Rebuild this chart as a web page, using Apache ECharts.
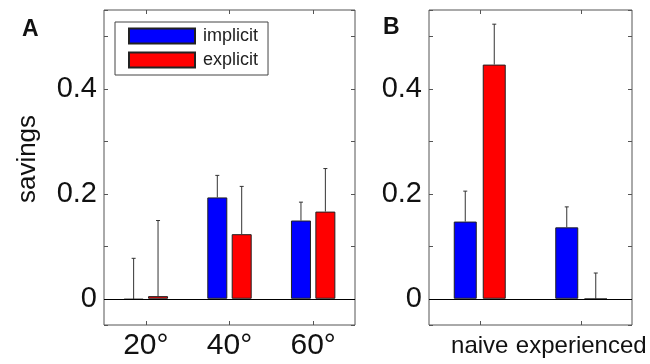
<!DOCTYPE html>
<html>
<head>
<meta charset="utf-8">
<script src="https://cdn.jsdelivr.net/npm/echarts@6/dist/echarts.min.js"></script>
<style>
  html, body { margin: 0; padding: 0; background: #fff; }
  #chart { width: 650px; height: 364px; }
</style>
</head>
<body>
<div id="chart"></div>
<script>
// panel A: savings by rotation size
const anglesA = ['20°', '40°', '60°'];
const implicitA = [-0.002, 0.193, 0.149];
const explicitA = [0.005, 0.123, 0.166];
const implicitUpperA = [0.077, 0.235, 0.184];
const explicitUpperA = [0.149, 0.214, 0.248];

// panel B: naive vs experienced
const groupsB = ['naive', 'experienced'];
const implicitB = [0.147, 0.136];
const explicitB = [0.446, -0.001];
const implicitUpperB = [0.205, 0.175];
const explicitUpperB = [0.523, 0.049];

const yTickLabels = ['0', '0.2', '0.4'];

const FONT = 'Liberation Sans, Arial, Helvetica, sans-serif';
const BLUE = '#0000ff';
const RED = '#ff0000';
const FRAME = '#555';

function tickLabel(v) {
    const hit = yTickLabels.find((t) => Math.abs(parseFloat(t) - v) < 1e-6);
    return hit || '';
}

function errData(vals, uppers) {
    return vals.map((v, i) => [i, v, uppers[i]]);
}

function errSeries(name, vals, uppers, axis, offset) {
    return {
        name: name,
        type: 'custom',
        xAxisIndex: axis,
        yAxisIndex: axis,
        z: 3,
        silent: true,
        data: errData(vals, uppers),
        renderItem: (params, api) => {
            const base = api.coord([api.value(0), api.value(1)]);
            const top = api.coord([api.value(0), api.value(2)]);
            const x = base[0] + offset;
            const st = { stroke: '#333', lineWidth: 1 };
            return {
                type: 'group',
                children: [
                    { type: 'line', shape: { x1: x, y1: base[1], x2: x, y2: top[1] }, style: st },
                    { type: 'line', shape: { x1: x - 2, y1: top[1], x2: x + 2, y2: top[1] }, style: st },
                ],
            };
        },
    };
}

function catAxis(gridIndex, data, position, showLabel, fontSize, margin) {
    return {
        type: 'category',
        gridIndex: gridIndex,
        position: position,
        data: data,
        axisLine: { show: false, onZero: false },
        axisTick: { show: true, inside: true, length: 4, alignWithLabel: true, lineStyle: { color: FRAME } },
        axisLabel: { show: showLabel, interval: 0, hideOverlap: false, fontFamily: FONT, fontSize: fontSize, color: '#111', margin: margin },
        splitLine: { show: false },
    };
}

function valAxis(gridIndex, position, showLabel) {
    return {
        type: 'value',
        gridIndex: gridIndex,
        position: position,
        min: -0.05,
        max: 0.55,
        splitNumber: 5,
        axisLine: { show: false, onZero: false },
        axisTick: { show: true, inside: true, length: 4, lineStyle: { color: FRAME } },
        axisLabel: { show: showLabel, formatter: tickLabel, fontFamily: FONT, fontSize: 29, color: '#111', margin: 7 },
        splitLine: { show: false },
    };
}

const barStyle = (c) => ({ color: c, borderColor: '#222', borderWidth: 1 });
const zeroLine = {
    silent: true,
    symbol: 'none',
    label: { show: false },
    lineStyle: { color: '#000', width: 1, type: 'solid' },
    data: [{ yAxis: 0 }],
};

const chart = echarts.init(document.getElementById('chart'));

const option = {
    animation: false,
    backgroundColor: '#fff',
    textStyle: { fontFamily: FONT },
    legend: {
        data: ['implicit', 'explicit'],
        icon: 'rect',
        orient: 'vertical',
        left: 115,
        top: 22,
        itemWidth: 66,
        itemHeight: 15,
        itemGap: 6,
        padding: [5, 10, 6, 13],
        borderColor: '#444',
        borderWidth: 1,
        borderRadius: 0,
        backgroundColor: '#fff',
        selectedMode: false,
        textStyle: { fontFamily: FONT, fontSize: 18, color: '#222', padding: [0, 0, 0, 3] },
    },
    grid: [
        { left: 104, top: 10, width: 251, height: 315, show: true, borderColor: FRAME, borderWidth: 1, backgroundColor: 'transparent' },
        { left: 429, top: 10, width: 203, height: 315, show: true, borderColor: FRAME, borderWidth: 1, backgroundColor: 'transparent' },
    ],
    xAxis: [
        catAxis(0, anglesA, 'bottom', true, 30, 6),
        catAxis(0, anglesA, 'top', false, 30, 6),
        catAxis(1, groupsB, 'bottom', true, 24, 9),
        catAxis(1, groupsB, 'top', false, 24, 9),
    ],
    yAxis: [
        valAxis(0, 'left', true),
        valAxis(0, 'right', false),
        valAxis(1, 'left', true),
        valAxis(1, 'right', false),
    ],
    graphic: [
        { type: 'text', x: 28, y: 159, rotation: Math.PI / 2,
          style: { text: 'savings', font: '26px ' + FONT, fill: '#111', align: 'center', verticalAlign: 'middle' } },
        { type: 'text', x: 22, y: 18,
          style: { text: 'A', font: 'bold 23px ' + FONT, fill: '#111' } },
        { type: 'text', x: 383, y: 16,
          style: { text: 'B', font: 'bold 23px ' + FONT, fill: '#111' } },
    ],
    series: [
        { name: 'implicit', type: 'bar', xAxisIndex: 0, yAxisIndex: 0, data: implicitA,
          barWidth: 20, barGap: '22%', itemStyle: barStyle(BLUE), markLine: zeroLine },
        { name: 'explicit', type: 'bar', xAxisIndex: 0, yAxisIndex: 0, data: explicitA,
          barWidth: 20, barGap: '22%', itemStyle: barStyle(RED) },
        errSeries('errImplicitA', implicitA, implicitUpperA, 0, -12.2),
        errSeries('errExplicitA', explicitA, explicitUpperA, 0, 12.2),

        { name: 'implicit', type: 'bar', xAxisIndex: 2, yAxisIndex: 2, data: implicitB,
          barWidth: 23, barGap: '26%', itemStyle: barStyle(BLUE), markLine: zeroLine },
        { name: 'explicit', type: 'bar', xAxisIndex: 2, yAxisIndex: 2, data: explicitB,
          barWidth: 23, barGap: '26%', itemStyle: barStyle(RED) },
        errSeries('errImplicitB', implicitB, implicitUpperB, 2, -14.5),
        errSeries('errExplicitB', explicitB, explicitUpperB, 2, 14.5),
    ],
};

chart.setOption(option);
</script>
</body>
</html>
